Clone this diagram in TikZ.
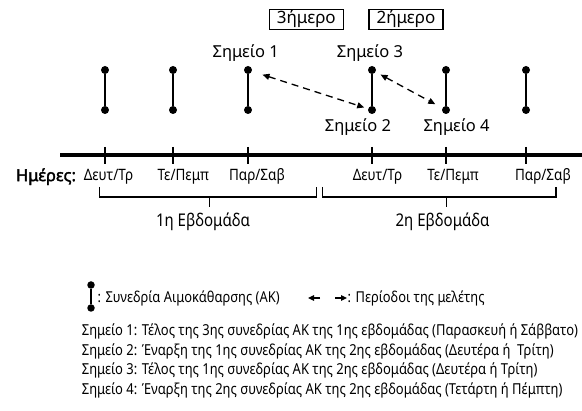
\documentclass[tikz,border=0pt]{standalone}
\usepackage{fontspec}
\setmainfont{Noto Sans}
\newfontfamily\narrowfont{Noto Sans}[FakeStretch=0.86]
\newfontfamily\headfont{Noto Sans}[FakeBold=2]
\usetikzlibrary{positioning, arrows.meta}
\tikzset{
  sdot/.style={circle, fill=black, inner sep=0pt, minimum size=8pt},
  sess/.style={line width=1.8pt},
  lbl/.style={font=\fontsize{16.5}{19}\selectfont, inner sep=0pt},
  tag/.style={draw, line width=1.1pt, font=\fontsize{17}{19}\selectfont, inner sep=0pt, minimum width=74pt, minimum height=20pt},
  day/.style={font=\narrowfont\fontsize{15.7}{18}\selectfont, inner sep=0pt},
  week/.style={font=\narrowfont\fontsize{17.5}{20}\selectfont, inner sep=0pt},
  note/.style={font=\narrowfont\fontsize{15.1}{17}\selectfont, inner sep=0pt, anchor=west},
  tick/.style={line width=1.2pt},
  brk/.style={line width=1.2pt},
  arr/.style={{Triangle[length=7pt, width=6pt]}-{Triangle[length=7pt, width=6pt]}, dash pattern=on 7pt off 5pt, line width=1.3pt},
  larr/.style={-{Triangle[length=6pt, width=5.5pt]}, line width=1.2pt},
}

\begin{document}
\begin{tikzpicture}[x=1pt, y=-1pt]
\useasboundingbox (0,0) rectangle (582,411);
% dialysis sessions
\foreach \i/\x in {1/105, 2/173, 3/248, 4/372, 5/446, 6/526} {
  \node[sdot] (t\i) at (\x,70) {};
  \node[sdot] (b\i) at (\x,110) {};
  \draw[sess] (t\i) -- (b\i);
}
\node[lbl] (p1) at (245.7,53) {Σημείο 1};
\node[lbl] (p3) at (370,53) {Σημείο 3};
\node[lbl] (p2) at (358,127) {Σημείο 2};
\node[lbl] (p4) at (456.6,127) {Σημείο 4};
\node[tag] (d3) at (306.3,19.3) {3ήμερο};
\node[tag] (d2) at (406,19.3) {2ήμερο};
\draw[arr, shorten <=11pt, shorten >=4pt] (t3) -- (b4);
\draw[arr, shorten <=5.5pt, shorten >=8pt] (t4) -- (b5);
% time axis
\coordinate (ax0) at (60,155);
\coordinate (ax1) at (582,155);
\draw[line width=4pt] (ax0) -- (ax1);
\foreach \i in {1,...,6}
  \draw[tick] (t\i |- 0,147) -- (t\i |- 0,164);
\node[day, font=\headfont\fontsize{16.5}{18}\selectfont] (hm) at (46,176.7) {Ημέρες:};
\node[day] (dy1) at (108.5,176.7) {Δευτ/Τρ};
\node[day] (dy2) at (183.3,176.7) {Τε/Πεμπ};
\node[day] (dy3) at (257,176.7) {Παρ/Σαβ};
\node[day] (dy4) at (377.5,176.7) {Δευτ/Τρ};
\node[day] (dy5) at (453,176.7) {Τε/Πεμπ};
\node[day] (dy6) at (543,176.7) {Παρ/Σαβ};
% weeks
\draw[brk] (99.3,187) -- (99.3,197) -- (316.7,197) -- (316.7,187);
\draw[brk] (209.3,197) -- (209.3,207);
\draw[brk] (322.3,187) -- (322.3,197) -- (556,197) -- (556,187);
\draw[brk] (446.5,197) -- (446.5,207);
\node[week] (w1) at (203,221.7) {1η Εβδομάδα};
\node[week] (w2) at (442.6,221.7) {2η Εβδομάδα};
% legend
\node[sdot, minimum size=7.5pt] (lt) at (91,285) {};
\node[sdot, minimum size=7.5pt] (lb) at (91,308) {};
\draw[sess] (lt) -- (lb);
\node[note, font=\narrowfont\fontsize{15}{17}\selectfont] (lg1) at (97.5,298) {: Συνεδρία Αιμοκάθαρσης (ΑΚ)};
\coordinate (la0) at (320,298);
\coordinate (la1) at (308,298);
\coordinate (ra0) at (335,298);
\coordinate (ra1) at (347,298);
\draw[larr] (la0) -- (la1);
\draw[larr] (ra0) -- (ra1);
\node[note, font=\narrowfont\fontsize{15}{17}\selectfont] (lg2) at (347.5,298) {: Περίοδοι της μελέτης};
\node[note] (n1) at (81.7,331.5) {Σημείο 1: Τέλος της 3ης συνεδρίας ΑΚ της 1ης εβδομάδας (Παρασκευή ή Σάββατο)};
\node[note] (n2) at (81.7,351) {Σημείο 2: Έναρξη της 1ης συνεδρίας ΑΚ της 2ης εβδομάδας (Δευτέρα ή~ Τρίτη)};
\node[note] (n3) at (81.7,370.5) {Σημείο 3: Τέλος της 1ης συνεδρίας ΑΚ της 2ης εβδομάδας (Δευτέρα ή Τρίτη)};
\node[note] (n4) at (81.7,390) {Σημείο 4: Έναρξη της 2ης συνεδρίας ΑΚ της 2ης εβδομάδας (Τετάρτη ή Πέμπτη)};
\end{tikzpicture}
\end{document}
